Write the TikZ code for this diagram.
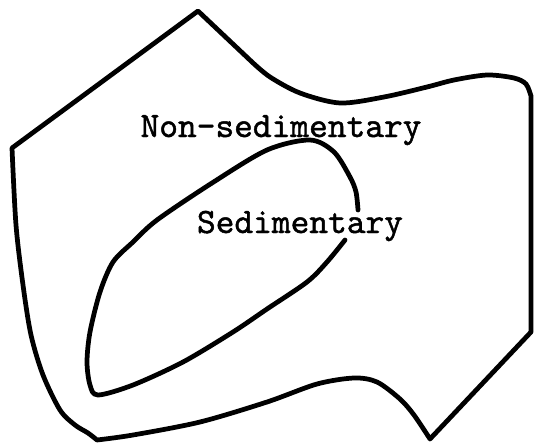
\documentclass[tikz,border=0pt]{standalone}
\usepackage{fontspec}
\newfontfamily\typewriter{lmmono10-regular.otf}[FakeBold=1.3]
\usepackage{tikz}
\tikzset{
  boundary/.style = {draw=black, line width=2.7pt, line join=round, line cap=round},
  region/.style   = {font=\typewriter\fontsize{20.3}{24}\selectfont, inner sep=0pt, anchor=base}
}
\begin{document}
\begin{tikzpicture}[x=0.02cm, y=-0.02cm]
\useasboundingbox (0,0) rectangle (534,443);
% outer boundary
\draw[boundary] (198,11) -- (12,148)
  -- plot[smooth] coordinates {(12,148) (16,225) (23,285) (31,335) (43,375) (60,410) (75,425) (88,433) (97,440)}
  -- plot[smooth] coordinates {(97,440) (133,435) (200,422) (267,402) (317,384) (354,378) (377,382) (400,399) (414,415) (430,439)}
  -- (531,332) -- (531,96)
  -- plot[smooth] coordinates {(531,96) (526,84) (514,78) (487,75) (454,80) (427,87) (384,97) (340,103) (300,93) (270,77) (252,62)}
  -- cycle;
% inner region, open at the label
\draw[boundary] plot[smooth] coordinates {(358,210) (356,192) (350,177) (334,152) (310,140) (267,150) (212,183) (157,220) (133,242) (113,262) (100,292) (90,332) (87,362) (90,385) (98,395) (133,385) (183,362) (233,332) (267,309) (307,282) (327,262) (345,240)};
\node[region] (nonsed) at (281,137) {Non-sedimentary};
\node[region] (sed) at (300,233) {Sedimentary};
\end{tikzpicture}
\end{document}
